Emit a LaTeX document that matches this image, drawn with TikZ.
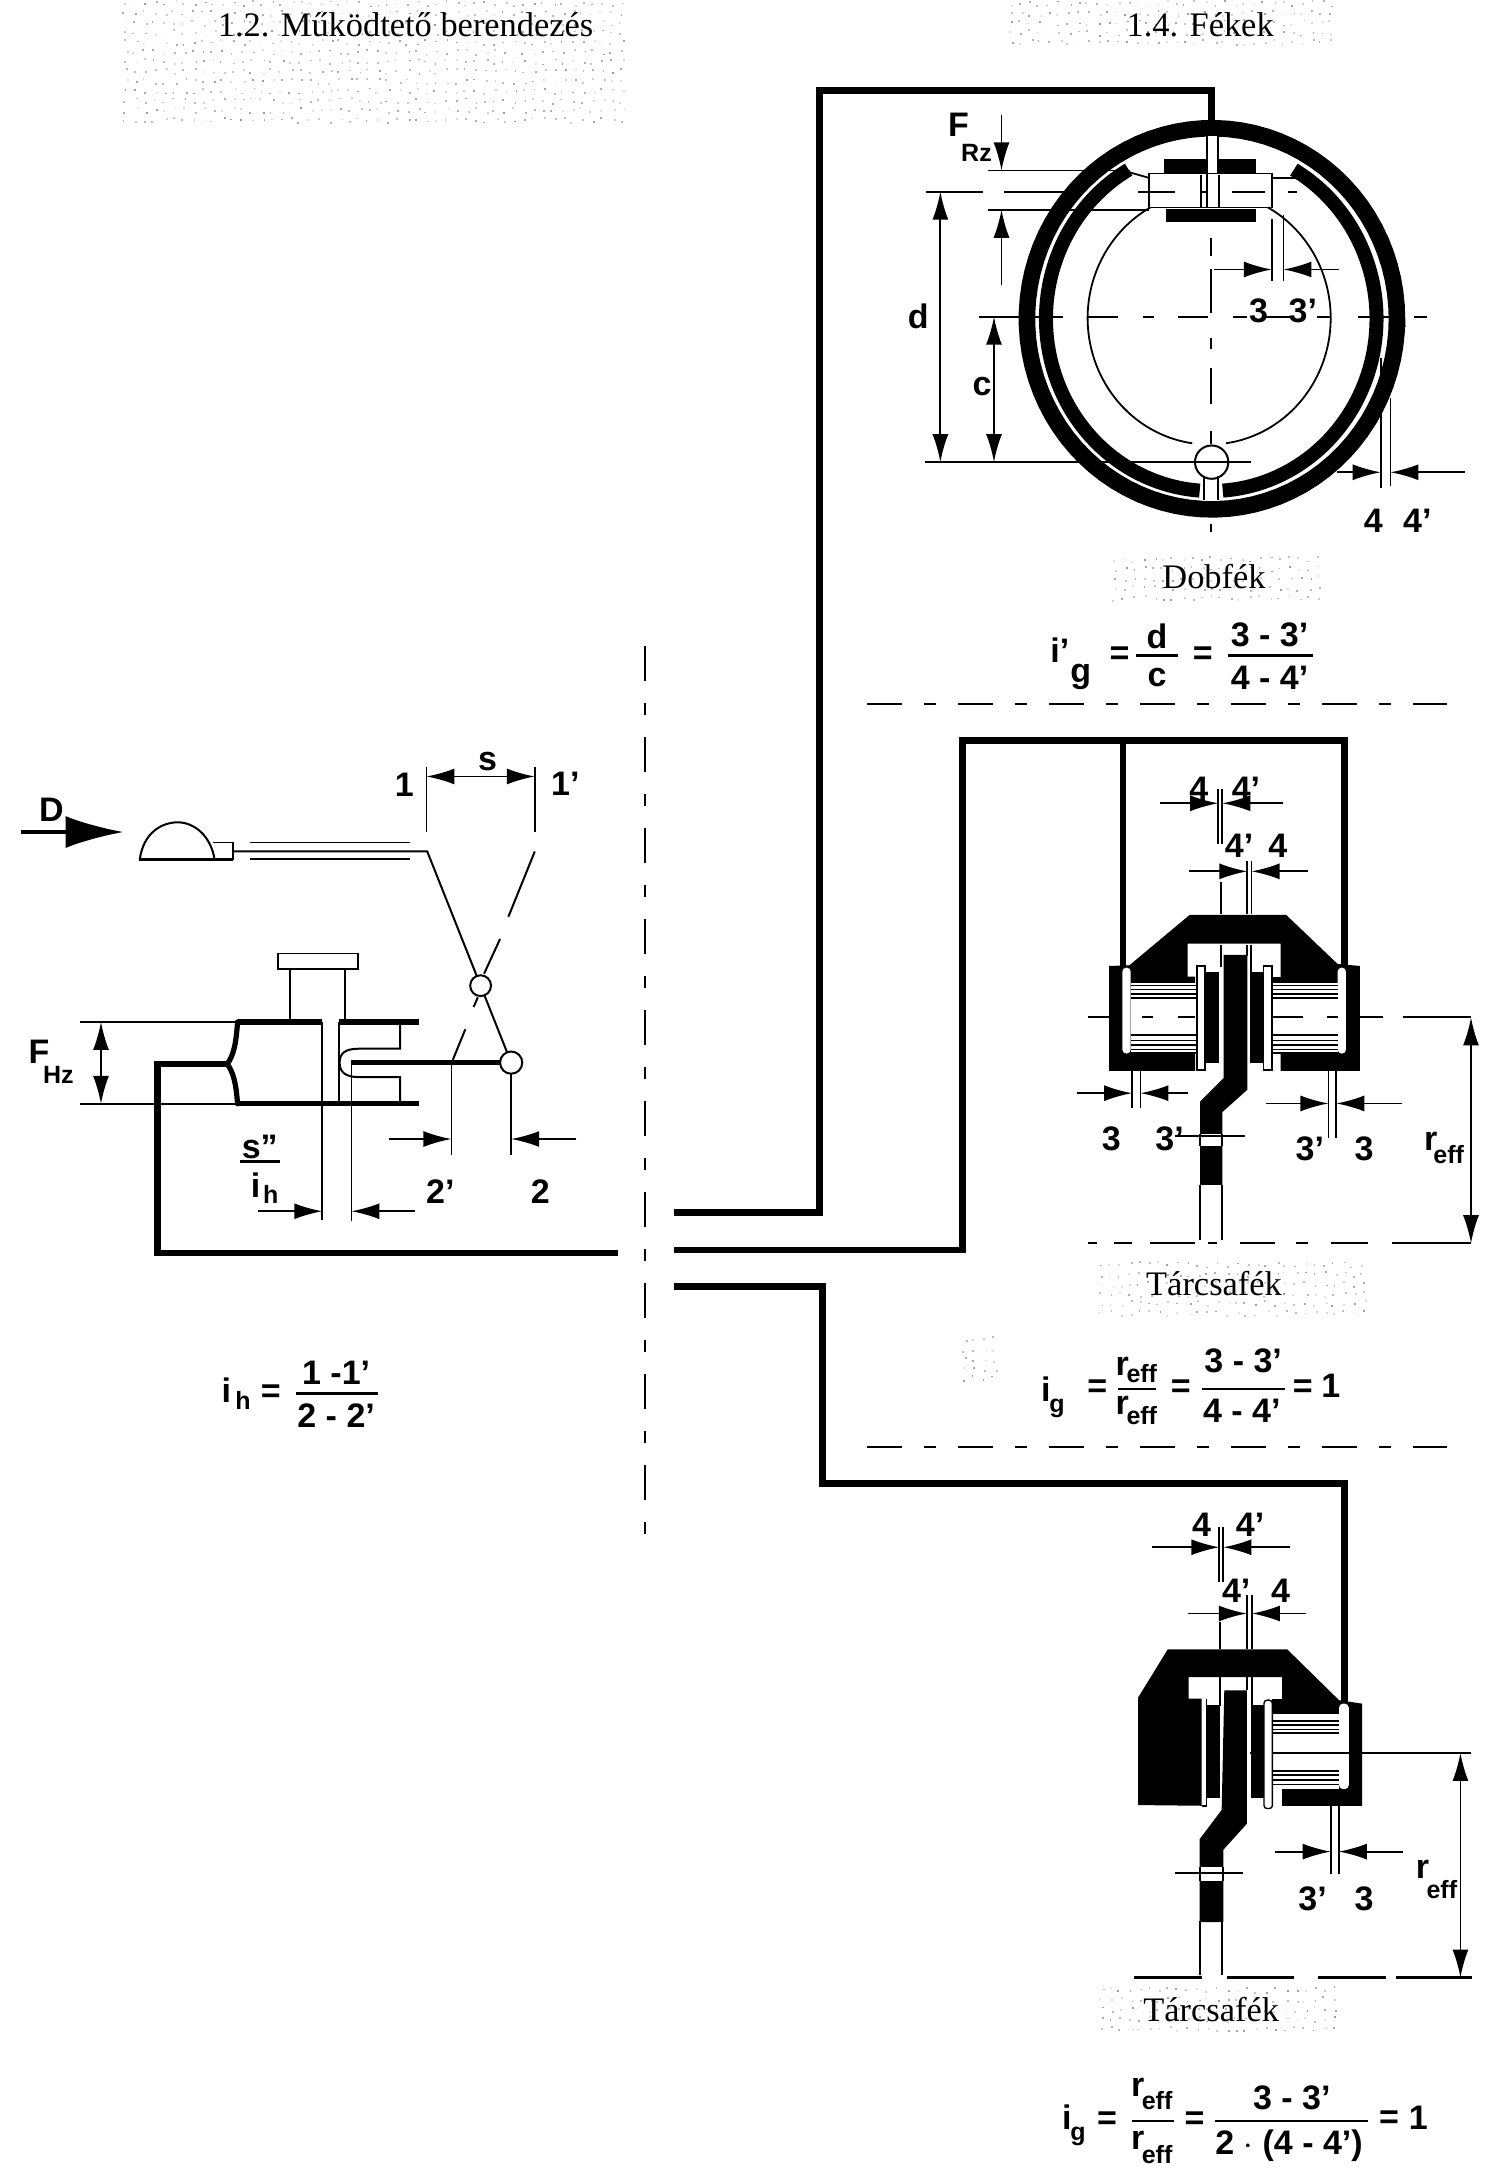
\documentclass[tikz,border=0pt]{standalone}
\usepackage{fontspec}
\setmainfont{Liberation Serif}
\setsansfont{Liberation Sans}
\usetikzlibrary{arrows.meta}
\newcounter{labc}
\newcommand{\lab}[4][lbl]{\stepcounter{labc}\node[#1] (L\thelabc) at (#2,#3) {#4};}
\newcommand{\earc}[6]{plot[domain=#5:#6,samples=90,variable=\t] ({#1+#2*cos(\t)},{#3-#4*sin(\t)})}
\newcommand{\speck}[4]{%
  \pgfmathsetmacro{\nx}{int((#3-#1)/7)}\pgfmathsetmacro{\ny}{int((#4-#2)/7)}%
  \foreach \i in {0,...,\nx}{\foreach \j in {0,...,\ny}{%
    \pgfmathsetmacro{\px}{#1+7*\i+rnd*4}\pgfmathsetmacro{\py}{#2+7*\j+rnd*4}\pgfmathsetmacro{\pg}{10+rnd*28}%
    \fill[black!\pg] (\px,\py) rectangle +(1.3,1.3);}}}
\tikzset{
  thickl/.style={line width=3.3pt,line join=miter,line cap=butt},
  medl/.style={line width=1.5pt},
  thinl/.style={line width=0.9pt},
  dimarr/.style={line width=0.9pt,-{Latex[length=14pt,width=8pt]}},
  dimboth/.style={line width=0.9pt,{Latex[length=14pt,width=8pt]}-{Latex[length=14pt,width=8pt]}},
  chain/.style={line width=1pt,dash pattern=on 17.5pt off 11pt on 6pt off 11pt},
  lbl/.style={inner sep=0pt,font=\sffamily\bfseries\fontsize{17}{17}\selectfont},
  sub/.style={inner sep=0pt,font=\sffamily\bfseries\fontsize{12.5}{12.5}\selectfont},
  serif/.style={inner sep=0pt,font=\rmfamily\fontsize{17.2}{18}\selectfont},
  blk/.style={fill=black,draw=none},
  wht/.style={fill=white,draw=none},
  whte/.style={fill=white,draw=black,line width=0.7pt},
  stripe/.style={line width=0.8pt},
}
\begin{document}
\begin{tikzpicture}[x=0.69444pt,y=-0.69444pt]
\useasboundingbox (0,0) rectangle (1080,1568);
\fill[white] (0,0) rectangle (1080,1568);
\pgfmathsetseed{4242}
% speckled caption patches
\speck{88}{0}{445}{90}
\speck{725}{0}{960}{34}
\speck{800}{400}{950}{428}
\speck{790}{908}{985}{945}
\speck{790}{1430}{960}{1462}
\speck{692}{962}{716}{990}
% captions
\lab[serif]{292}{18}{1.2. Működtető berendezés}
\lab[serif]{864}{18}{1.4. Fékek}
\lab[serif]{874}{415}{Dobfék}
\lab[serif]{874}{924}{Tárcsafék}
\lab[serif]{872}{1447}{Tárcsafék}
% centre chain line
\draw[chain] (464,465) -- (464,1106);
% ---------- LEFT ----------
\draw[line width=1.8pt,-{Latex[length=29pt,width=16pt]}] (15,599) -- (89,599);
\lab{37}{583}{D}
\draw[line width=1pt] (100.6,619) .. controls (103,600) and (116,592) .. (128,592) .. controls (140,592) and (152,602) .. (154.5,619);
\draw[medl] (100,619) -- (168,619);
\draw[thinl] (153,606.5) -- (168,606.5) -- (168,619);
\draw[thinl] (180,606.5) -- (295,606.5);
\draw[thinl] (180,618.5) -- (295,618.5);
\draw[line width=1pt] (168,613) -- (307.6,613) -- (346,709.6);
\draw[line width=1pt] (346,709.6) -- (368,765);
\draw[line width=1pt] (385,613) -- (366,660);
\draw[line width=1pt] (360,676) -- (348.5,701);
\draw[line width=1pt] (344,718) -- (341,725);
\draw[line width=1pt] (335,741) -- (326,763);
\draw[thinl] (307,552) -- (307,599);
\draw[thinl] (385,552) -- (385,599);
\draw[dimboth] (307,559) -- (385,559);
\lab{351}{548}{s}
\lab{291}{565}{1}
\lab{407}{564}{1'}
% plates
\draw[thinl] (57.6,735.7) -- (171,735.7);
\draw[thinl] (57.6,794.7) -- (171,794.7);
\draw[line width=2.6pt] (171,735.7) -- (232,735.7);
\draw[line width=2.6pt] (244,735.7) -- (301.5,735.7);
\draw[line width=2.6pt] (171,794.7) -- (301.5,794.7);
\draw[line width=2.6pt,line cap=round] (171,735.7) .. controls (170,752) and (168,760) .. (163.6,766) .. controls (168,772) and (170,780) .. (171,794.7);
\draw[thickl] (445,902) -- (113.6,902) -- (113.6,766) -- (163.6,766);
\draw[whte,line width=0.8pt] (200,686.4) rectangle (257.6,697.5);
\draw[thinl] (209,697.5) -- (209,735);
\draw[thinl] (248.5,697.5) -- (248.5,735);
\draw[thinl] (232,735.7) -- (232,878);
\draw[thinl] (253,763) -- (253,879);
\draw[thinl] (244,735.7) -- (244,795);
\draw[line width=1pt] (288,737) -- (288,755) -- (258,755) .. controls (249,755) and (244.5,758) .. (244.5,765) .. controls (244.5,772) and (249,775.4) .. (258,775.4) -- (288,775.4) -- (288,794);
\draw[line width=2.6pt] (253,765) -- (360.6,765);
\draw[thinl] (368,772) -- (368,831.5);
\draw[thinl] (325,763) -- (325,831.5);
\draw[dimarr] (280,820) -- (325,820);
\draw[dimarr] (415,820) -- (368,820);
\lab{317}{858}{2'}
\lab{389}{858}{2}
\draw[whte,line width=1pt] (346,709.6) circle[radius=7.5];
\draw[whte,line width=1pt] (368,765) circle[radius=8];
\lab{187}{826}{s"}
\draw[line width=1.4pt] (173,836) -- (201.5,836);
\lab{184}{853}{i}
\lab[sub]{195}{860}{h}
\draw[dimarr] (186,872) -- (232,872);
\draw[dimarr] (298.5,872) -- (253,872);
\lab{28}{757}{F}
\lab[sub]{42}{773.5}{Hz}
\draw[dimboth] (72.7,735.7) -- (72.7,794.7);
% left formula
\lab{163}{1001}{i}
\lab[sub]{175}{1008}{h}
\lab{195}{1003}{=}
\lab{242}{988}{1 -1'}
\draw[line width=1.3pt] (213,1003) -- (272,1003);
\lab{242}{1019}{2 - 2'}
% ---------- PIPES ----------
\draw[thickl] (485,873) -- (590,873) -- (590,65) -- (872,65) -- (872,92);
\draw[thickl] (485,900) -- (693,900) -- (693,533) -- (968,533) -- (968,696);
\draw[line width=2.6pt] (808.5,533) -- (808.5,696);
\draw[thickl] (485,926) -- (592,926) -- (592,1068) -- (968,1068) -- (968,1226);
% ---------- DRUM ----------
\draw[line width=8.3pt] \earc{872.5}{133.2}{229.5}{137.2}{0}{360} -- cycle;
\draw[line width=7pt] \earc{872}{119}{229.5}{124}{120}{266};
\draw[line width=7pt] \earc{872}{119}{229.5}{124}{60}{-86};
\draw[line width=0.9pt] \earc{870.5}{87.5}{229}{91}{62}{-82};
\draw[line width=0.9pt] \earc{870.5}{87.5}{229}{91}{118}{262};
% slots
\fill[wht] (868.7,98) rectangle (877,150);
\draw[thinl] (868.7,98) -- (868.7,150);
\draw[thinl] (877,98) -- (877,150);
\fill[wht] (867,345) rectangle (877,360.5);
\draw[thinl] (867,343) -- (867,360);
\draw[thinl] (877,343) -- (877,360);
\draw[thinl] (813,124) -- (827,128);
\draw[thinl] (915.6,128) -- (932,128);
% cylinder
\draw[whte,line width=0.8pt] (827,124.8) rectangle (915.6,149.4);
\fill[blk] (838,114.3) rectangle (868.7,124.4);
\fill[blk] (877,114.3) rectangle (904,124.4);
\fill[blk] (839.7,150.6) rectangle (904.5,159.7);
\draw[thinl] (864.5,126) -- (864.5,149);
\draw[thinl] (877.5,126) -- (877.5,149);
\draw[thinl] (868.7,124.8) -- (868.7,150);
\draw[thinl] (864.5,138) -- (868.7,138);
% chain lines of the drum
\foreach \a/\b in {667/708,723/769,819/846,887/911,927/933.5}{\draw[line width=1pt] (\a,138) -- (\b,138);}
\foreach \a/\b in {704.5/765,783/805,823/831,848/870,888/898,910/929,948/958,978/1001,1018/1027}{\draw[line width=1pt] (\a,228) -- (\b,228);}
\foreach \a/\b in {171/184,196/220,243/251,265/291,310/320,377/383}{\draw[line width=1pt] (872,\a) -- (872,\b);}
\draw[thinl] (711.4,122.7) -- (813.5,122.7);
\draw[thinl] (711,151) -- (827,151);
\draw[thinl] (666,332.7) -- (900.4,332.7);
\draw[line width=1pt] (872.3,332.7) circle[radius=12];
\draw[thinl] (915.6,157.8) -- (915.6,202);
\draw[thinl] (924,155) -- (924,202);
\draw[dimarr] (874,194) -- (915.6,194);
\draw[dimarr] (964,194) -- (924,194);
\draw[thinl] (872,194) -- (872,225);
\draw[dimarr] (721,82.6) -- (721,122.7);
\draw[dimarr] (721,205.5) -- (721,151);
\lab[lbl]{690}{90}{F}
\lab[sub]{703}{110}{Rz}
\draw[dimboth] (677,138) -- (677,332.7);
\draw[dimboth] (715.6,228) -- (715.6,332.7);
\lab[lbl]{661}{228}{d}
\lab[lbl]{707}{278}{c}
\lab{906}{224}{3}
\lab{938}{224}{3'}
\draw[thinl] (994,258) -- (994,351);
\draw[thinl] (1001,286.6) -- (1001,350);
\draw[dimarr] (962.5,340) -- (994,340);
\draw[dimarr] (1055,340) -- (1001,340);
\lab{988.7}{375}{4}
\lab{1020.4}{375}{4'}
% formula 1
\lab{763}{468}{i'}
\lab{778}{487}{g}
\lab{806}{472}{=}
\lab{833}{458}{d}
\draw[line width=1.3pt] (818,472) -- (848,472);
\lab{833}{488}{c}
\lab{866}{472}{=}
\lab{914}{457}{3 - 3'}
\draw[line width=1.3pt] (884,472) -- (945,472);
\lab{914}{488}{4 - 4'}
\draw[chain] (624,507) -- (1042,507);
% ---------- DISC 1 ----------
\fill[blk] (798.5,695.4) -- (813,695) -- (856.4,658.7) -- (926,658.7) -- (963,694) -- (979,695.4) -- (979,771) -- (922,771) -- (922,679.3) -- (855,679.3) -- (855,703) -- (860.4,703) -- (860.4,771) -- (798.5,771) -- cycle;
\fill[wht] (814,708) rectangle (862,758.5);
\fill[wht] (916,708) rectangle (963,758.5);
\fill[blk] (916,703) rectangle (922,708);
\fill[wht,rounded corners=2pt] (808,696.6) rectangle (814,758.5);
\fill[wht,rounded corners=2pt] (963,696.6) rectangle (969,758.5);
\foreach \y in {709.5,712.5,715.5,718.5,745,749,752.5,755.5,758}{
  \draw[stripe] (814,\y) -- (861.7,\y);\draw[stripe] (916,\y) -- (963,\y);}
\draw[whte] (861.7,695.4) rectangle (867.5,770.4);
\fill[blk] (867.5,700) rectangle (877.5,765);
\fill[blk] (900,700) rectangle (909.6,765);
\draw[whte] (909.6,695.4) rectangle (915.7,770.4);
\fill[blk] (881,687.5) -- (898,687.5) -- (898,784.5) -- (880,800.6) -- (880,853) -- (864,853) -- (864,793) -- (881,776) -- cycle;
\fill[wht] (864,816.7) rectangle (880,825.3);
\draw[thinl] (864,816.7) -- (864,825.3);\draw[thinl] (880,816.7) -- (880,825.3);
\draw[thinl] (846,818) -- (896,818);
\draw[thinl] (864,853) -- (864,893);
\draw[thinl] (880,853) -- (880,893);
\foreach \a/\b in {783/790,802/815,828/860,870/876,893/918,933/942,958/985,1002/1059}{\draw[line width=1pt] (\a,895) -- (\b,895);}
\foreach \a/\b in {783/798.5,822/830,848/860,916/938,955/963,979/996,1010/1059}{\draw[line width=1pt] (\a,732.5) -- (\b,732.5);}
\draw[dimboth] (1059,732.5) -- (1059,895);
\lab{1030}{822}{r}
\lab[sub]{1043}{831.5}{eff}
% dims
\draw[thinl] (877,568) -- (877,607.5);
\draw[thinl] (880,568) -- (880,607.5);
\draw[dimarr] (835,578.3) -- (877,578.3);
\draw[dimarr] (924,578.3) -- (880,578.3);
\lab{863}{568}{4}
\lab{897}{568}{4'}
\draw[thinl] (879,634.7) -- (879,658);
\draw[thinl] (898,620) -- (898,658);
\draw[thinl] (901,620) -- (901,658);
\draw[thinl] (879,680) -- (879,696);
\draw[thinl] (898,680) -- (898,688);
\draw[thinl] (900.6,680) -- (900.6,700);
\draw[dimarr] (856,627.3) -- (898,627.3);
\draw[dimarr] (941.4,627.3) -- (901,627.3);
\lab{892}{609}{4'}
\lab{920}{609}{4}
\draw[thinl] (815,771) -- (815,798);
\draw[thinl] (821,771) -- (821,798);
\draw[dimarr] (775,787) -- (815,787);
\draw[dimarr] (855,787) -- (821,787);
\lab{800}{820}{3}
\lab{842}{820}{3'}
\draw[thinl] (956.4,771) -- (956.4,819);
\draw[thinl] (962,771) -- (962,819);
\draw[dimarr] (911.7,794.4) -- (956.4,794.4);
\draw[dimarr] (1009,794.4) -- (962,794.4);
\lab{943}{827}{3'}
\lab{982}{827}{3}
% formula 2
\lab{753}{1000}{i}
\lab[sub]{761}{1014}{g}
\lab{790}{1000}{=}
\lab{808}{984}{r}
\lab[sub]{822}{989}{eff}
\draw[line width=1.3pt] (805,1000) -- (832,1000);
\lab{808}{1012}{r}
\lab[sub]{822}{1019}{eff}
\lab{850}{1000}{=}
\lab{895}{980}{3 - 3'}
\draw[line width=1.3pt] (865,1000) -- (925,1000);
\lab{894}{1016}{4 - 4'}
\lab{938}{1000}{=}
\lab{958}{998}{1}
\draw[chain] (624,1042) -- (1042,1042);
% ---------- DISC 2 ----------
\fill[blk] (840.7,1187.4) -- (926.7,1187.4) -- (964,1224) -- (980.7,1226.5) -- (980.7,1300) -- (923,1300) -- (923,1207.4) -- (855.8,1207.4) -- (855.8,1222.8) -- (865,1222.8) -- (865,1300) -- (819.4,1299.5) -- (819.4,1222) -- cycle;
\fill[wht] (916,1234) rectangle (964,1288);
\fill[blk] (916,1222.8) rectangle (923,1234);
\fill[wht,rounded corners=2pt] (964,1226.5) rectangle (971,1288);
\foreach \y in {1239,1242,1245,1247.5,1275,1278,1281.5,1284.6}{\draw[stripe] (916,\y) -- (964,\y);}
\draw[line width=1.2pt] (900,1262) -- (1058.7,1262);
\draw[thinl] (868.6,1222.8) -- (868.6,1300) -- (865,1300);
\fill[blk] (869.3,1227.7) rectangle (878.3,1294.6);
\fill[blk] (900.5,1227.7) rectangle (910,1294.6);
\draw[whte,rounded corners=1.5pt] (910,1224) rectangle (916,1302);
\fill[blk] (881.4,1217) -- (897.6,1217) -- (897.6,1313) -- (880.7,1331.7) -- (880.7,1383.7) -- (863.7,1383.7) -- (863.7,1324) -- (879.5,1303) -- cycle;
\fill[wht] (863.7,1344) rectangle (880.7,1354);
\draw[thinl] (863.7,1344) -- (863.7,1354);\draw[thinl] (880.7,1344) -- (880.7,1354);
\draw[thinl] (845.6,1348.3) -- (895,1348.3);
\draw[thinl] (863.7,1383) -- (863.7,1422);
\draw[thinl] (880,1383) -- (880,1422);
\foreach \a/\b in {816.5/865,883/931.5,948.5/998,1005/1060}{\draw[line width=1.2pt] (\a,1423.7) -- (\b,1423.7);}
\draw[dimboth] (1051.4,1262) -- (1051.4,1423.7);
\lab{1024}{1346}{r}
\lab[sub]{1038}{1360}{eff}
\draw[thinl] (877.8,1099) -- (877.8,1138.6);
\draw[thinl] (880.7,1099) -- (880.7,1138.6);
\draw[dimarr] (829.4,1113.9) -- (877.8,1113.9);
\draw[dimarr] (929,1113.9) -- (880.7,1113.9);
\lab{865}{1098}{4}
\lab{900}{1098}{4'}
\draw[thinl] (897.6,1148.5) -- (897.6,1187);
\draw[thinl] (901.3,1148.5) -- (901.3,1187);
\draw[thinl] (878.3,1168) -- (878.3,1187);
\draw[thinl] (878.3,1207.4) -- (878.3,1228);
\draw[thinl] (897.6,1207.4) -- (897.6,1217);
\draw[thinl] (901.3,1207.4) -- (901.3,1228);
\draw[dimarr] (855,1161.6) -- (897.6,1161.6);
\draw[dimarr] (940,1161.6) -- (901.3,1161.6);
\lab{890}{1145}{4'}
\lab{922}{1145}{4}
\draw[thinl] (958,1300) -- (958,1349);
\draw[thinl] (963.8,1300) -- (963.8,1349);
\draw[dimarr] (917.7,1333) -- (958,1333);
\draw[dimarr] (1010,1333) -- (963.8,1333);
\lab{945}{1367}{3'}
\lab{982}{1367}{3}
% formula 3
\lab{768}{1524}{i}
\lab[sub]{776}{1538}{g}
\lab{797}{1527}{=}
\lab{819}{1503}{r}
\lab[sub]{833}{1512}{eff}
\draw[line width=1.3pt] (815,1527) -- (845,1527);
\lab{819}{1541}{r}
\lab[sub]{833}{1551}{eff}
\lab{860}{1527}{=}
\lab{930}{1510}{3 - 3'}
\draw[line width=1.3pt] (875,1527) -- (985,1527);
\lab{928}{1545}{2 $\cdot$ (4 - 4')}
\lab{1000}{1526}{=}
\lab{1021}{1525}{1}
\end{tikzpicture}
\end{document}
